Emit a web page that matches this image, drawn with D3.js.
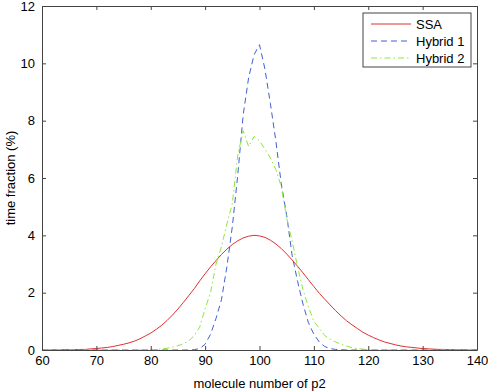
<!DOCTYPE html>
<html>
<head>
<meta charset="utf-8">
<script src="https://cdn.jsdelivr.net/npm/d3@7"></script>
<style>
  body { margin: 0; background: #fff; }
  svg { font-family: "Liberation Sans", Arial, sans-serif; }
</style>
</head>
<body>
<div id="chart"></div>
<script>
// molecule numbers (x)
const moleculeNumbers = [
  60, 61, 62, 63, 64, 65, 66, 67, 68, 69,
  70, 71, 72, 73, 74, 75, 76, 77, 78, 79,
  80, 81, 82, 83, 84, 85, 86, 87, 88, 89,
  90, 91, 92, 93, 94, 95, 96, 97, 98, 99,
  100, 101, 102, 103, 104, 105, 106, 107, 108, 109,
  110, 111, 112, 113, 114, 115, 116, 117, 118, 119,
  120, 121, 122, 123, 124, 125, 126, 127, 128, 129,
  130, 131, 132, 133, 134, 135, 136, 137, 138, 139, 140
];

// time fraction (%) per series
const ssaValues = [
  0.00, 0.00, 0.00, 0.00, 0.01, 0.01, 0.01, 0.02, 0.02, 0.04,
  0.05, 0.07, 0.09, 0.12, 0.16, 0.20, 0.25, 0.31, 0.39, 0.49,
  0.59, 0.72, 0.86, 1.03, 1.22, 1.43, 1.66, 1.90, 2.14, 2.41,
  2.66, 2.90, 3.12, 3.33, 3.52, 3.68, 3.81, 3.91, 3.97, 4.00,
  3.98, 3.93, 3.83, 3.70, 3.54, 3.35, 3.14, 2.92, 2.69, 2.45,
  2.21, 1.98, 1.77, 1.57, 1.37, 1.19, 1.02, 0.88, 0.75, 0.62,
  0.52, 0.43, 0.35, 0.28, 0.23, 0.18, 0.14, 0.11, 0.09, 0.07,
  0.05, 0.04, 0.03, 0.02, 0.02, 0.01, 0.01, 0.01, 0.00, 0.00, 0.00
];

const hybrid1Values = [
  0, 0, 0, 0, 0, 0, 0, 0, 0, 0,
  0, 0, 0, 0, 0, 0, 0, 0, 0, 0,
  0, 0, 0, 0, 0, 0, 0, 0, 0.01, 0.05,
  0.2, 0.55, 1.1, 1.75, 2.9, 4.3, 6.1, 8.2, 9.5, 10.3,
  10.65, 9.8, 8.6, 7.3, 5.8, 4.7, 3.3, 2.4, 1.6, 0.95,
  0.55, 0.28, 0.12, 0.05, 0.02, 0.01, 0, 0, 0, 0,
  0, 0, 0, 0, 0, 0, 0, 0, 0, 0,
  0, 0, 0, 0, 0, 0, 0, 0, 0, 0, 0
];

const hybrid2Values = [
  0, 0, 0, 0, 0, 0, 0, 0, 0, 0,
  0, 0, 0, 0, 0, 0, 0, 0, 0, 0,
  0.01, 0.02, 0.04, 0.06, 0.1, 0.15, 0.22, 0.32, 0.5, 0.8,
  1.45, 2.0, 3.0, 3.6, 4.4, 5.1, 6.8, 7.65, 7.1, 7.45,
  7.3, 7.0, 6.7, 6.3, 5.7, 4.6, 3.8, 2.9, 2.1, 1.5,
  1.0, 0.75, 0.5, 0.38, 0.28, 0.2, 0.14, 0.08, 0.05, 0.03,
  0.01, 0, 0, 0, 0, 0, 0, 0, 0, 0,
  0, 0, 0, 0, 0, 0, 0, 0, 0, 0, 0
];

const seriesNames = ["SSA", "Hybrid 1", "Hybrid 2"];
const xTicks = [60, 70, 80, 90, 100, 110, 120, 130, 140];
const yTicks = [0, 2, 4, 6, 8, 10, 12];

const chartWidth = 488, chartHeight = 392;
const margin = { top: 6, right: 11, bottom: 42, left: 42 };
const width = chartWidth - margin.left - margin.right;
const height = chartHeight - margin.top - margin.bottom;

const svg = d3.select("#chart").append("svg")
    .attr("width", chartWidth)
    .attr("height", chartHeight);

const g = svg.append("g")
    .attr("transform", `translate(${margin.left},${margin.top})`);

const x = d3.scaleLinear().domain([60, 140]).range([0, width]);
const y = d3.scaleLinear().domain([0, 12]).range([height, 0]);

// series styles (Matlab-like)
const styles = [
  { color: "#e03030", dash: null },
  { color: "#4060d0", dash: "6,4" },
  { color: "#8ee83a", dash: "6,3,1.5,3" }
];
const seriesValues = [ssaValues, hybrid1Values, hybrid2Values];

const line = d3.line()
    .x(d => x(d[0]))
    .y(d => y(d[1]));

seriesValues.forEach((vals, i) => {
    const pts = moleculeNumbers.map((m, k) => [m, vals[k]]);
    g.append("path")
        .datum(pts)
        .attr("fill", "none")
        .attr("stroke", styles[i].color)
        .attr("stroke-width", 1)
        .attr("stroke-dasharray", styles[i].dash)
        .attr("d", line);
});

// axes: ticks pointing inward, mirrored on top/right
const axisColor = "#444";
const xAxis = g.append("g")
    .attr("transform", `translate(0,${height})`)
    .call(d3.axisBottom(x).tickValues(xTicks).tickSizeInner(-4).tickSizeOuter(0).tickPadding(6));
const yAxis = g.append("g")
    .call(d3.axisLeft(y).tickValues(yTicks).tickSizeInner(-4).tickSizeOuter(0).tickPadding(7));
const xTop = g.append("g")
    .call(d3.axisTop(x).tickValues(xTicks).tickSizeInner(-4).tickSizeOuter(0).tickFormat(""));
const yRight = g.append("g")
    .attr("transform", `translate(${width},0)`)
    .call(d3.axisRight(y).tickValues(yTicks).tickSizeInner(-4).tickSizeOuter(0).tickFormat(""));

[xAxis, yAxis, xTop, yRight].forEach(a => {
    a.selectAll("path").attr("stroke", axisColor);
    a.selectAll("line").attr("stroke", axisColor);
    a.selectAll("text").style("font-size", "13px").attr("fill", "#000");
});

// axis labels
g.append("text")
    .attr("x", width / 2)
    .attr("y", height + 38)
    .attr("text-anchor", "middle")
    .style("font-size", "13px")
    .text("molecule number of p2");

g.append("text")
    .attr("transform", "rotate(-90)")
    .attr("x", -height / 2)
    .attr("y", -margin.left + 15)
    .attr("text-anchor", "middle")
    .style("font-size", "13px")
    .text("time fraction (%)");

// legend
const legend = g.append("g").attr("transform", `translate(${363 - margin.left},${13 - margin.top})`);
legend.append("rect")
    .attr("width", 108).attr("height", 54)
    .attr("fill", "#fff").attr("stroke", axisColor);
seriesNames.forEach((name, i) => {
    const ly = 11 + i * 17;
    legend.append("line")
        .attr("x1", 8).attr("x2", 48)
        .attr("y1", ly).attr("y2", ly)
        .attr("stroke", styles[i].color)
        .attr("stroke-dasharray", styles[i].dash);
    legend.append("text")
        .attr("x", 53).attr("y", ly)
        .attr("dy", "0.35em")
        .style("font-size", "13px")
        .text(name);
});
</script>
</body>
</html>
